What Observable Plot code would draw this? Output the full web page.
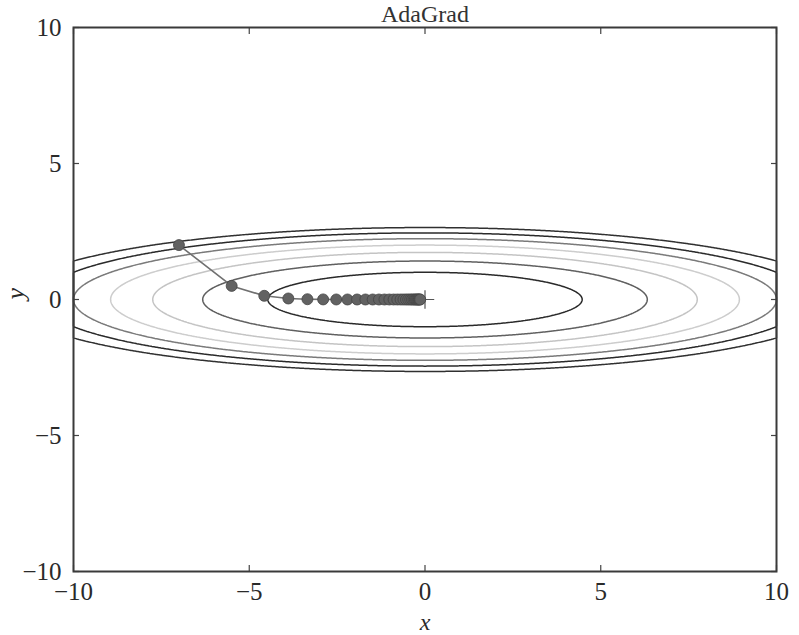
<!DOCTYPE html>
<html>
<head>
<meta charset="utf-8">
<script src="https://cdn.jsdelivr.net/npm/d3@7"></script>
<script src="https://cdn.jsdelivr.net/npm/@observablehq/plot@0.6"></script>
<style>
  html, body { margin: 0; padding: 0; background: #fff; }
  svg { display: block; }
</style>
</head>
<body>
<div id="chart"></div>
<script>
// AdaGrad path on f(x, y) = x^2/20 + y^2
const pathX = [-7, -5.5, -4.573, -3.888, -3.345, -2.898, -2.524, -2.205, -1.932, -1.695,
  -1.489, -1.310, -1.153, -1.015, -0.894, -0.788, -0.695, -0.613, -0.540, -0.477,
  -0.420, -0.371, -0.327, -0.289, -0.255, -0.225, -0.198, -0.175, -0.154, -0.136];
const pathY = [2, 0.5, 0.136, 0.037, 0.010, 0.003, 0.001, 0.0002, 0.0001, 0,
  0, 0, 0, 0, 0, 0, 0, 0, 0, 0,
  0, 0, 0, 0, 0, 0, 0, 0, 0, 0];
// contour levels and their grey tones
const levels = [1, 2, 3, 4, 5, 6, 7];
const levelColors = ["#2a2a2a", "#606060", "#c4c4c4", "#cdcdcd", "#7a7a7a", "#2a2a2a", "#303030"];
const xTicks = [-10, -5, 0, 5, 10];
const yTicks = [-10, -5, 0, 5, 10];
const origin = [{x: 0, y: 0}];

const path = pathX.map((x, i) => ({x, y: pathY[i]}));
const f = (x, y) => -(x * x / 20 + y * y);

const font = "'Liberation Serif', 'DejaVu Serif', serif";

const contourMarks = levels.map((lv, i) =>
  Plot.contour({
    value: f, x1: -10, x2: 10, y1: -10, y2: 10,
    thresholds: [-lv], fill: "none", stroke: levelColors[i], strokeWidth: 1.5, pixelSize: 1
  })
);

const chart = Plot.plot({
  width: 799,
  height: 635,
  marginLeft: 73,
  marginRight: 23,
  marginTop: 27,
  marginBottom: 64,
  style: {fontFamily: font, fontSize: "25px", color: "#2a2a2a", background: "#fff"},
  x: {domain: [-10, 10]},
  y: {domain: [-10, 10]},
  marks: [
    ...contourMarks,
    Plot.dot(origin, {x: "x", y: "y", symbol: "plus", r: 6, stroke: "#555", strokeWidth: 1.2}),
    Plot.line(path, {x: "x", y: "y", stroke: "#707070", strokeWidth: 1.6}),
    Plot.dot(path, {x: "x", y: "y", r: 5.5, fill: "#626262", stroke: "#444", strokeWidth: 0.8}),
    // tick labels
    Plot.axisX(xTicks, {anchor: "bottom", tickSize: 0, tickPadding: 11, label: null, fontSize: 25}),
    Plot.axisY(yTicks, {anchor: "left", tickSize: 0, tickPadding: 12, label: null, fontSize: 25}),
    // inward tick marks on all sides
    Plot.axisX(xTicks, {anchor: "bottom", tickSize: -6, tickFormat: () => "", label: null, stroke: "#444", strokeWidth: 1.2}),
    Plot.axisX(xTicks, {anchor: "top", tickSize: -6, tickFormat: () => "", label: null, stroke: "#444", strokeWidth: 1.2}),
    Plot.axisY(yTicks, {anchor: "left", tickSize: -6, tickFormat: () => "", label: null, stroke: "#444", strokeWidth: 1.2}),
    Plot.axisY(yTicks, {anchor: "right", tickSize: -6, tickFormat: () => "", label: null, stroke: "#444", strokeWidth: 1.2}),
    Plot.frame({stroke: "#3a3a3a", strokeWidth: 2}),
    Plot.text(["AdaGrad"], {frameAnchor: "top", lineAnchor: "middle", dy: -13, fontSize: 24, fill: "#333"}),
    Plot.text(["x"], {frameAnchor: "bottom", lineAnchor: "middle", dy: 51, fontSize: 24, fontStyle: "italic", fill: "#2a2a2a"}),
    Plot.text(["y"], {frameAnchor: "left", dx: -58, rotate: -90, fontSize: 26, fontStyle: "italic", fill: "#2a2a2a"})
  ]
});
document.getElementById("chart").appendChild(chart);
</script>
</body>
</html>
